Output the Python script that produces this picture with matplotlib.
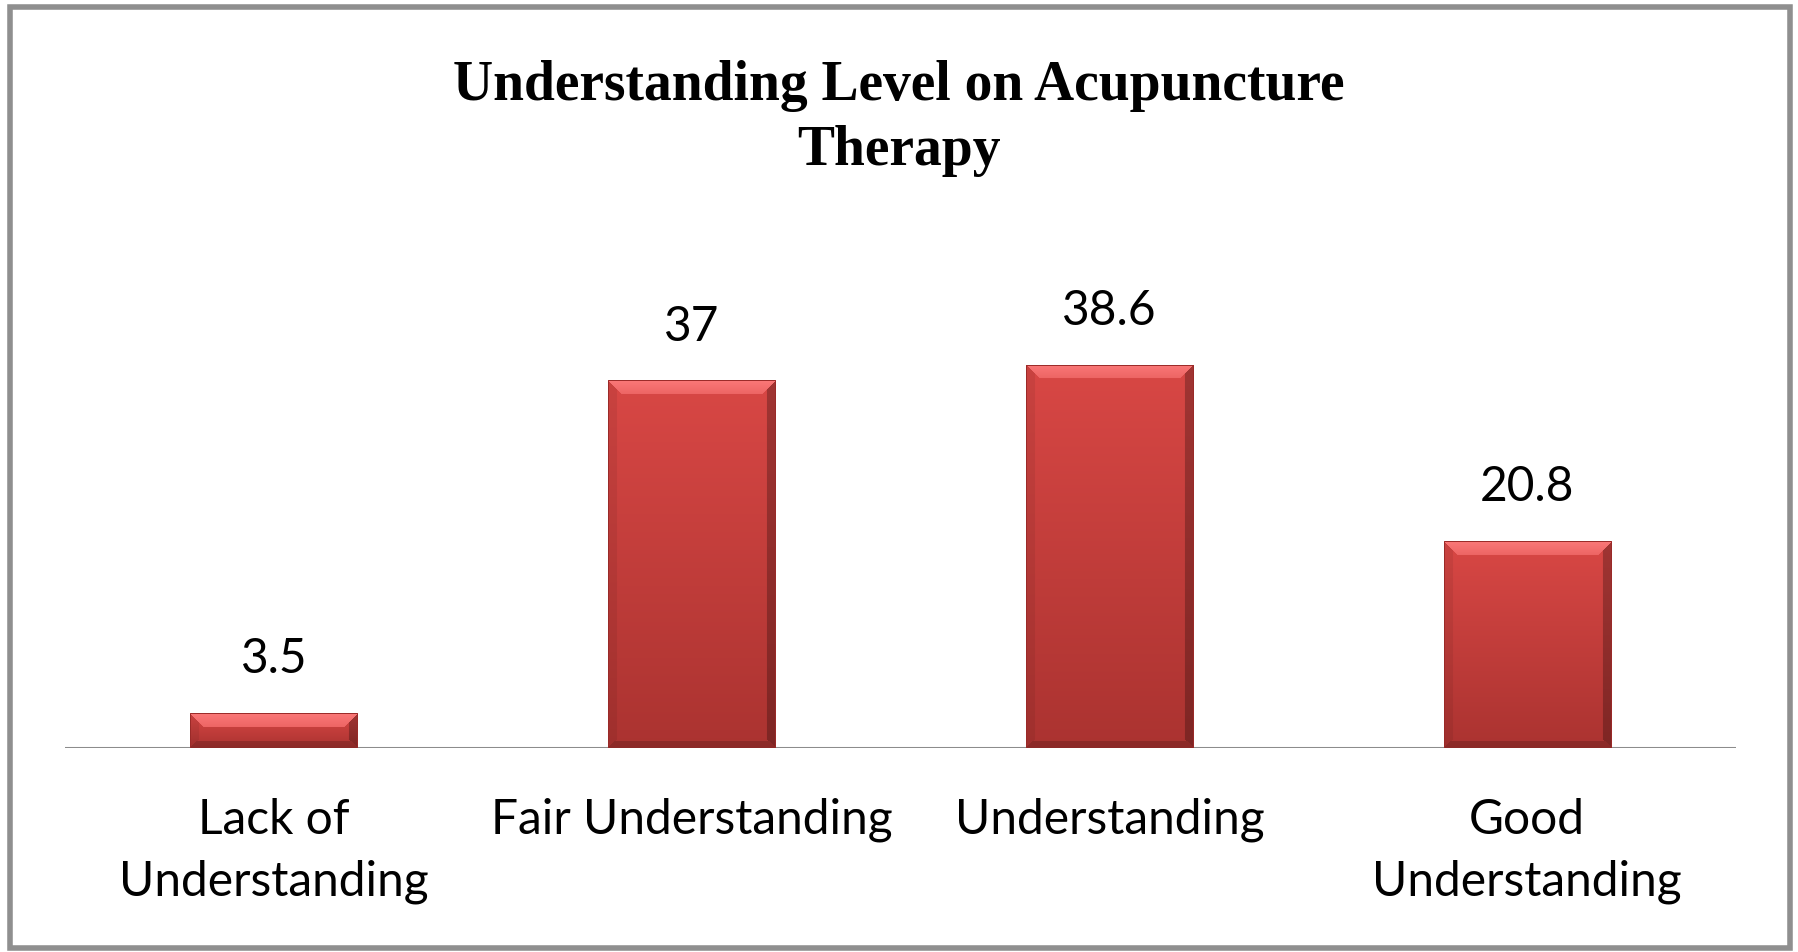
import matplotlib
matplotlib.use("Agg")

import matplotlib.pyplot as plt
from matplotlib.patches import Rectangle
import numpy as np

# data
categories = ["Lack of\nUnderstanding", "Fair Understanding", "Understanding", "Good\nUnderstanding"]
values = [3.5, 37, 38.6, 20.8]
value_labels = ["3.5", "37", "38.6", "20.8"]
title = "Understanding Level on Acupuncture\nTherapy"

W, H, DPI = 1798, 952, 100
fig = plt.figure(figsize=(W / DPI, H / DPI), dpi=DPI)
fig.patch.set_facecolor("white")

# axes placed so the baseline sits at y=748 px, spanning x 65..1736
ax = fig.add_axes([65 / W, (H - 748) / H, 1671 / W, 447 / H])
ax.set_xlim(-0.5, 3.5)
ax.set_ylim(0, 45)
ax.axis("off")
ax.axhline(0, color="#8c8c8c", lw=2.2, zorder=1)

x = np.arange(len(values))
bars = ax.bar(x, values, width=0.4, color="#c63d3b", zorder=2)

# bevelled look: paint a shaded image inside each bar
fig.canvas.draw()
to_px = ax.transData
for b in bars:
    x0, y0 = b.get_x(), b.get_y()
    x1, y1 = x0 + b.get_width(), y0 + b.get_height()
    (px0, py0), (px1, py1) = to_px.transform([(x0, y0), (x1, y1)])
    wp, hp = max(int(round(px1 - px0)), 2), max(int(round(py1 - py0)), 2)
    rows = np.arange(hp)[:, None] * np.ones((1, wp))
    cols = np.ones((hp, 1)) * np.arange(wp)[None, :]
    d_t, d_b = rows, hp - 1 - rows
    d_l, d_r = cols, wp - 1 - cols
    t = rows / max(hp - 1, 1)
    top_c = np.array([0.85, 0.28, 0.27])
    bot_c = np.array([0.67, 0.20, 0.19])
    img = top_c[None, None, :] * (1 - t[..., None]) + bot_c[None, None, :] * t[..., None]
    bev = min(14, hp / 2.2, wp / 2.2)
    m = np.minimum(np.minimum(d_t, d_b), np.minimum(d_l, d_r))
    top_face = (d_t < bev) & (d_t <= m)
    bot_face = (d_b < bev * 0.5) & (d_b <= m) & ~top_face
    left_face = (d_l < bev * 0.6) & (d_l <= m) & ~top_face & ~bot_face
    right_face = (d_r < bev * 0.6) & (d_r <= m) & ~top_face & ~bot_face
    # soft highlight on the top bevel, brighter towards the edge
    shade = 1 - d_t / max(bev, 1)
    hi = np.array([0.98, 0.47, 0.47])
    img[top_face] = (hi[None, :] * (0.6 + 0.4 * shade[top_face][:, None])
                     + top_c[None, :] * (0.4 - 0.4 * shade[top_face][:, None]))
    img[bot_face] = img[bot_face] * 0.82
    img[left_face] = img[left_face] * 0.93
    img[right_face] = img[right_face] * 0.74
    im = ax.imshow(np.clip(img, 0, 1), extent=(x0, x1, y0, y1), aspect="auto", origin="upper",
                   interpolation="bilinear", zorder=3)
    im.set_clip_path(b)
    ax.add_patch(Rectangle((x0, y0), x1 - x0, y1 - y0, fill=False,
                           edgecolor="#9a2a28", lw=0.7, zorder=4))

# value labels
for xi, v, lab in zip(x, values, value_labels):
    ax.annotate(lab, (xi, v), xytext=(0, 23), textcoords="offset points",
                ha="center", va="bottom", fontsize=34.5, family="Lato", color="black")

# category labels
for xi, cat in zip(x, categories):
    ax.text(xi, -5.0, cat, ha="center", va="top", fontsize=34.5, family="Lato",
            color="black", linespacing=1.5)

fig.text(899 / W, 1 - 60 / H, title, ha="center", va="top", fontsize=40,
         family="Liberation Serif", weight="bold", linespacing=1.33)

# outer grey frame
fig.add_artist(Rectangle((10 / W, 4 / H), (1780 / W), (941 / H), transform=fig.transFigure,
                         fill=False, edgecolor="#8f8f8f", lw=4))

fig.savefig("out.png", dpi=DPI)
